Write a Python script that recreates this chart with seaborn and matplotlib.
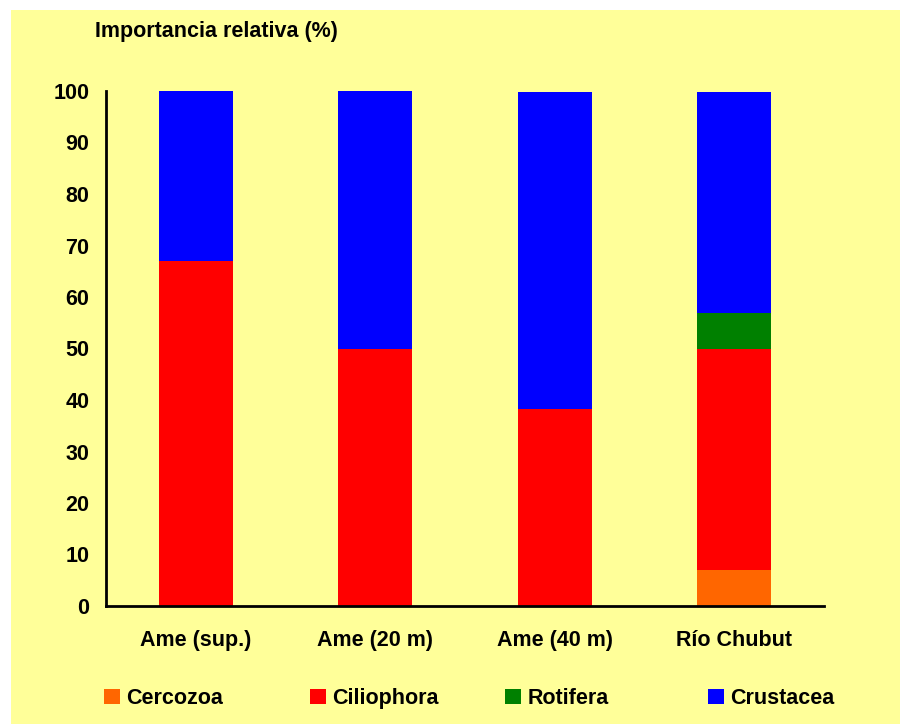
import matplotlib
matplotlib.use("Agg")
import matplotlib.pyplot as plt
import seaborn as sns
import pandas as pd
import numpy as np
from matplotlib.patches import Patch, Rectangle

sites = ["Ame (sup.)", "Ame (20 m)", "Ame (40 m)", "Río Chubut"]
taxa = ["Cercozoa", "Ciliophora", "Rotifera", "Crustacea"]
cercozoa = [0, 0, 0, 7.0]
ciliophora = [67.0, 49.9, 38.3, 42.9]
rotifera = [0, 0, 0, 7.0]
crustacea = [33.0, 50.1, 61.5, 42.9]
colors = ["#FF6600", "#FF0000", "#008000", "#0000FF"]
yticks = [0, 10, 20, 30, 40, 50, 60, 70, 80, 90, 100]

sns.set_theme(style="white")
plt.rcParams["font.family"] = ["Liberation Sans", "DejaVu Sans"]
plt.rcParams["font.weight"] = "bold"
plt.rcParams["text.color"] = "black"
plt.rcParams["xtick.color"] = "black"
plt.rcParams["ytick.color"] = "black"
plt.rcParams["xtick.labelcolor"] = "black"
plt.rcParams["ytick.labelcolor"] = "black"

FS = 15.5
series = [cercozoa, ciliophora, rotifera, crustacea]
cum = np.cumsum(np.array(series), axis=0)

fig = plt.figure(figsize=(9, 7.26), dpi=100, facecolor="white")
fig.patches.append(Rectangle((11 / 900, 2 / 726), 1 - 11 / 900, (716 - 2) / 726,
                             transform=fig.transFigure, facecolor="#FFFF99",
                             edgecolor="none", zorder=-10))
ax = fig.add_axes([106 / 900, 1 - 606 / 726, (824 - 106) / 900, (606 - 91) / 726])
ax.set_facecolor("#FFFF99")

for i in range(len(taxa) - 1, -1, -1):
    df = pd.DataFrame({"site": sites, "value": cum[i]})
    sns.barplot(data=df, x="site", y="value", color=colors[i], width=0.41,
                saturation=1, ax=ax, order=sites, linewidth=0, zorder=2)

ax.set_xlim(-0.5, 3.5)
ax.set_ylim(0, 100)
ax.set_yticks(yticks)
ax.set_yticklabels([str(v) for v in yticks], fontsize=FS, fontweight="bold", color="black")
ax.set_xticks(range(len(sites)))
ax.set_xticklabels(sites, fontsize=FS, fontweight="bold", color="black")
ax.set_xticks(np.arange(-0.5, 3.6, 1), minor=True)
ax.tick_params(axis="x", which="major", length=0, pad=17)
ax.tick_params(axis="x", which="minor", length=4, width=2, direction="out", color="black")
ax.tick_params(axis="y", which="major", length=4.5, width=2, direction="out", pad=7.5, color="black")
ax.set_xlabel("")
ax.set_ylabel("")
for s in ["top", "right"]:
    ax.spines[s].set_visible(False)
for s in ["left", "bottom"]:
    ax.spines[s].set_color("black")
    ax.spines[s].set_linewidth(2)

fig.text(95 / 900, 1 - 32 / 726, "Importancia relativa (%)", fontsize=FS,
         fontweight="bold", va="center", ha="left", color="black")

leg_x = [104, 310, 505, 708]
for name, c, x in zip(taxa, colors, leg_x):
    leg = fig.legend([Patch(facecolor=c, edgecolor="none")], [name], loc="lower left",
                     bbox_to_anchor=(x / 900, 1 - 709 / 726), frameon=False, fontsize=FS,
                     handlelength=0.75, handleheight=0.75, handletextpad=0.3,
                     borderpad=0, borderaxespad=0)
    for t in leg.get_texts():
        t.set_fontweight("bold")
        t.set_color("black")

fig.savefig("out.png", dpi=100, facecolor="white")
